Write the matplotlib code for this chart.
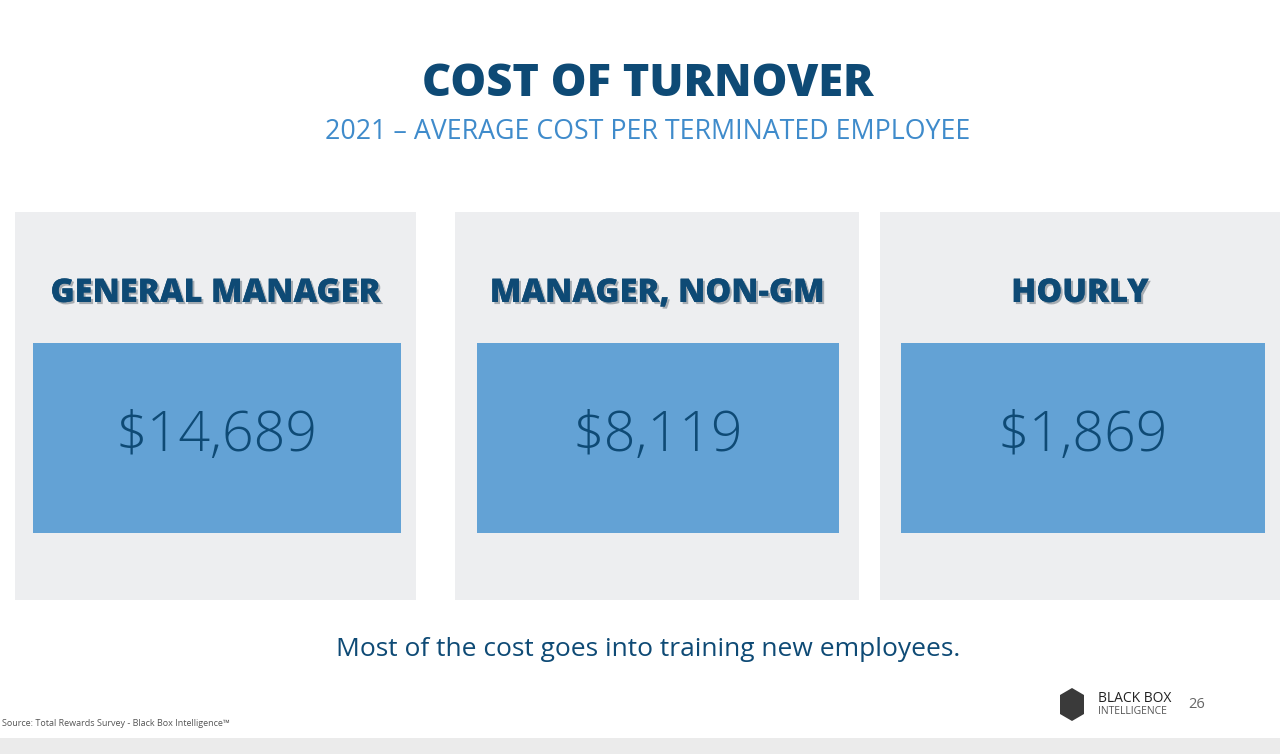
import matplotlib
matplotlib.use("Agg")
import matplotlib.pyplot as plt
from matplotlib.patches import Rectangle, Polygon
import matplotlib.patheffects as pe

categories = ["GENERAL MANAGER", "MANAGER, NON-GM", "HOURLY"]
values = [14689, 8119, 1869]
title = "COST OF TURNOVER"
subtitle = "2021 – AVERAGE COST PER TERMINATED EMPLOYEE"
note = "Most of the cost goes into training new employees."
source = "Source: Total Rewards Survey - Black Box Intelligence™"

fig = plt.figure(figsize=(12.8, 7.54), dpi=100)
ax = fig.add_axes([0, 0, 1, 1])
ax.set_xlim(0, 1280); ax.set_ylim(754, 0); ax.axis("off")

navy = "#0E4A75"
F = "Open Sans"
panels = [(15, 416), (455, 859), (880, 1280)]
boxes = [(33, 401), (477, 839), (901, 1265)]

ax.text(648, 85, title, ha="center", va="center", fontsize=32.5, fontweight="heavy",
        color=navy, family=F)
ax.text(648, 132, subtitle, ha="center", va="center", fontsize=19.3, color="#3F8BCB",
        family=F)

for cat, val, (px0, px1), (bx0, bx1) in zip(categories, values, panels, boxes):
    ax.add_patch(Rectangle((px0, 212), px1 - px0, 388, color="#EDEEF0", lw=0))
    ax.add_patch(Rectangle((bx0, 343), bx1 - bx0, 190, color="#63A2D5", lw=0))
    cx = (px0 + px1) / 2
    ax.text(cx, 293, cat, ha="center", va="center", fontsize=23.5, fontweight="heavy",
            color=navy, family=F,
            path_effects=[pe.withSimplePatchShadow(offset=(1.5, -1.5), alpha=0.3), pe.Normal()])
    ax.text((bx0 + bx1) / 2, 436, f"${val:,}", ha="center", va="center", fontsize=40,
            color=navy, family=F, fontweight="light")

ax.text(648, 650, note, ha="center", va="center", fontsize=19, color=navy, family=F)
ax.text(2, 724, source, ha="left", va="center", fontsize=6.5, color="#555555", family=F)
ax.add_patch(Rectangle((0, 738), 1280, 16, color="#EBEBEB", lw=0))

# logo
hexp = [(1060, 695), (1072, 688), (1084, 695), (1084, 714), (1072, 721), (1060, 714)]
ax.add_patch(Polygon(hexp, closed=True, color="#3A3A3A", lw=0))
ax.text(1098, 699, "BLACK BOX", ha="left", va="center", fontsize=10, color="#222222", family=F)
ax.text(1098, 712, "INTELLIGENCE", ha="left", va="center", fontsize=7.5, color="#555555",
        family=F)
ax.text(1188, 705, "26", ha="left", va="center", fontsize=10.5, color="#666666", family=F)

fig.savefig("out.png", dpi=100)
